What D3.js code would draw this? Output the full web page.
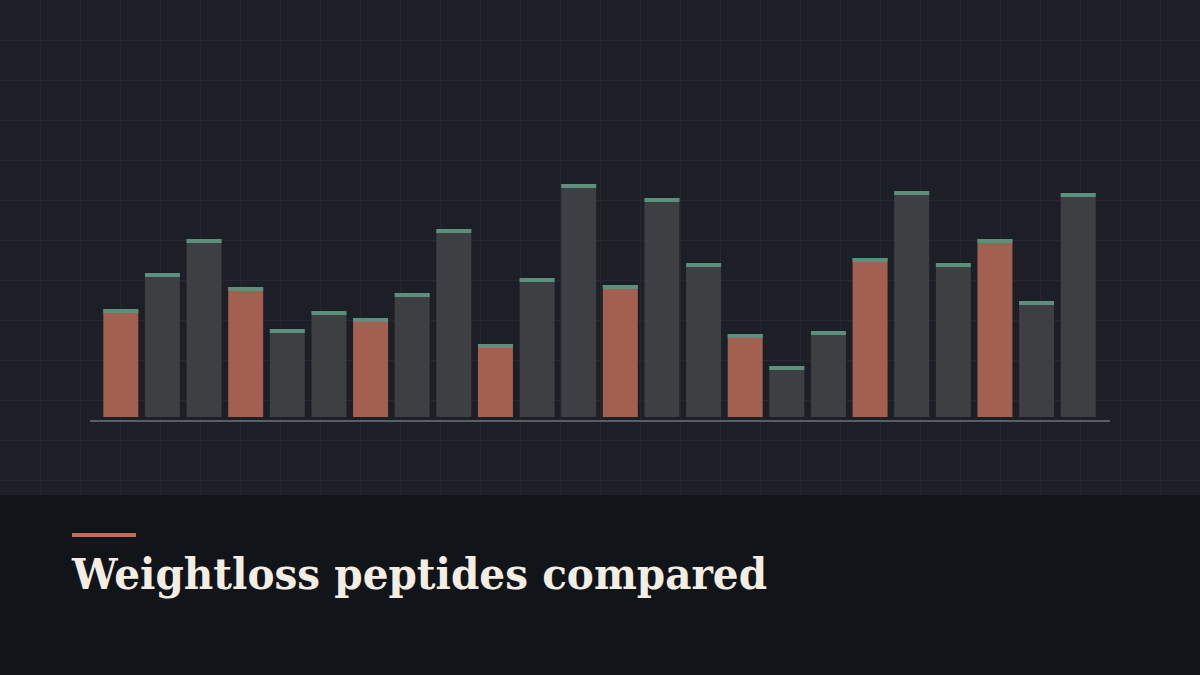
<!DOCTYPE html>
<html>
<head>
<meta charset="utf-8">
<script src="https://cdn.jsdelivr.net/npm/d3@7"></script>
<style>
  body { margin: 0; background: #111418; }
</style>
</head>
<body>
<svg id="chart" width="1200" height="675"></svg>
<script>
const width = 1200;
const height = 675;

// bar heights (arbitrary units), highlighted bars flagged
const values = [108, 144, 178, 130, 88, 106, 99, 124, 188, 73, 139, 233, 132, 219, 154, 83, 51, 86, 159, 226, 154, 178, 116, 224];
const highlight = [1, 0, 0, 1, 0, 0, 1, 0, 0, 1, 0, 0, 1, 0, 0, 1, 0, 0, 1, 0, 0, 1, 0, 0];
const title = "Weightloss peptides compared";

const svg = d3.select("#chart");

svg.append("rect").attr("width", width).attr("height", 495).attr("fill", "#1c1f26");
svg.append("rect").attr("y", 495).attr("width", width).attr("height", height - 495).attr("fill", "#111418");

const grid = svg.append("g").attr("stroke", "#252830").attr("stroke-width", 1);
grid.selectAll("line.v")
  .data(d3.range(40, width, 40))
  .join("line")
  .attr("x1", (d) => d + 0.5).attr("x2", (d) => d + 0.5)
  .attr("y1", 0).attr("y2", 495);
grid.selectAll("line.h")
  .data(d3.range(40, 495, 40))
  .join("line")
  .attr("x1", 0).attr("x2", width)
  .attr("y1", (d) => d + 0.5).attr("y2", (d) => d + 0.5);

const x = d3.scaleBand()
  .domain(d3.range(values.length))
  .range([100, 1099])
  .paddingInner(0.16)
  .paddingOuter(0.08);

const y = d3.scaleLinear().domain([0, 233]).range([417, 184]);

const bars = svg.append("g");
bars.selectAll("rect.bar")
  .data(values)
  .join("rect")
  .attr("class", "bar")
  .attr("x", (d, i) => x(i))
  .attr("y", (d) => y(d))
  .attr("width", x.bandwidth())
  .attr("height", (d) => y(0) - y(d))
  .attr("fill", (d, i) => highlight[i] ? "#a35f4f" : "#3d3f43");

bars.selectAll("rect.cap")
  .data(values)
  .join("rect")
  .attr("class", "cap")
  .attr("x", (d, i) => x(i))
  .attr("y", (d) => y(d))
  .attr("width", x.bandwidth())
  .attr("height", 4)
  .attr("fill", "#5c8f7c");

svg.append("line")
  .attr("x1", 90).attr("x2", 1110)
  .attr("y1", 421).attr("y2", 421)
  .attr("stroke", "#5a5d63")
  .attr("stroke-width", 2);

svg.append("rect")
  .attr("x", 72).attr("y", 533)
  .attr("width", 64).attr("height", 4)
  .attr("fill", "#c06e58");

svg.append("text")
  .attr("x", 72).attr("y", 589)
  .attr("font-family", "'DejaVu Serif', Georgia, serif")
  .attr("font-weight", "bold")
  .attr("font-size", 42)
  .attr("fill", "#f3ede4")
  .attr("textLength", 695)
  .attr("lengthAdjust", "spacingAndGlyphs")
  .text(title);
</script>
</body>
</html>
